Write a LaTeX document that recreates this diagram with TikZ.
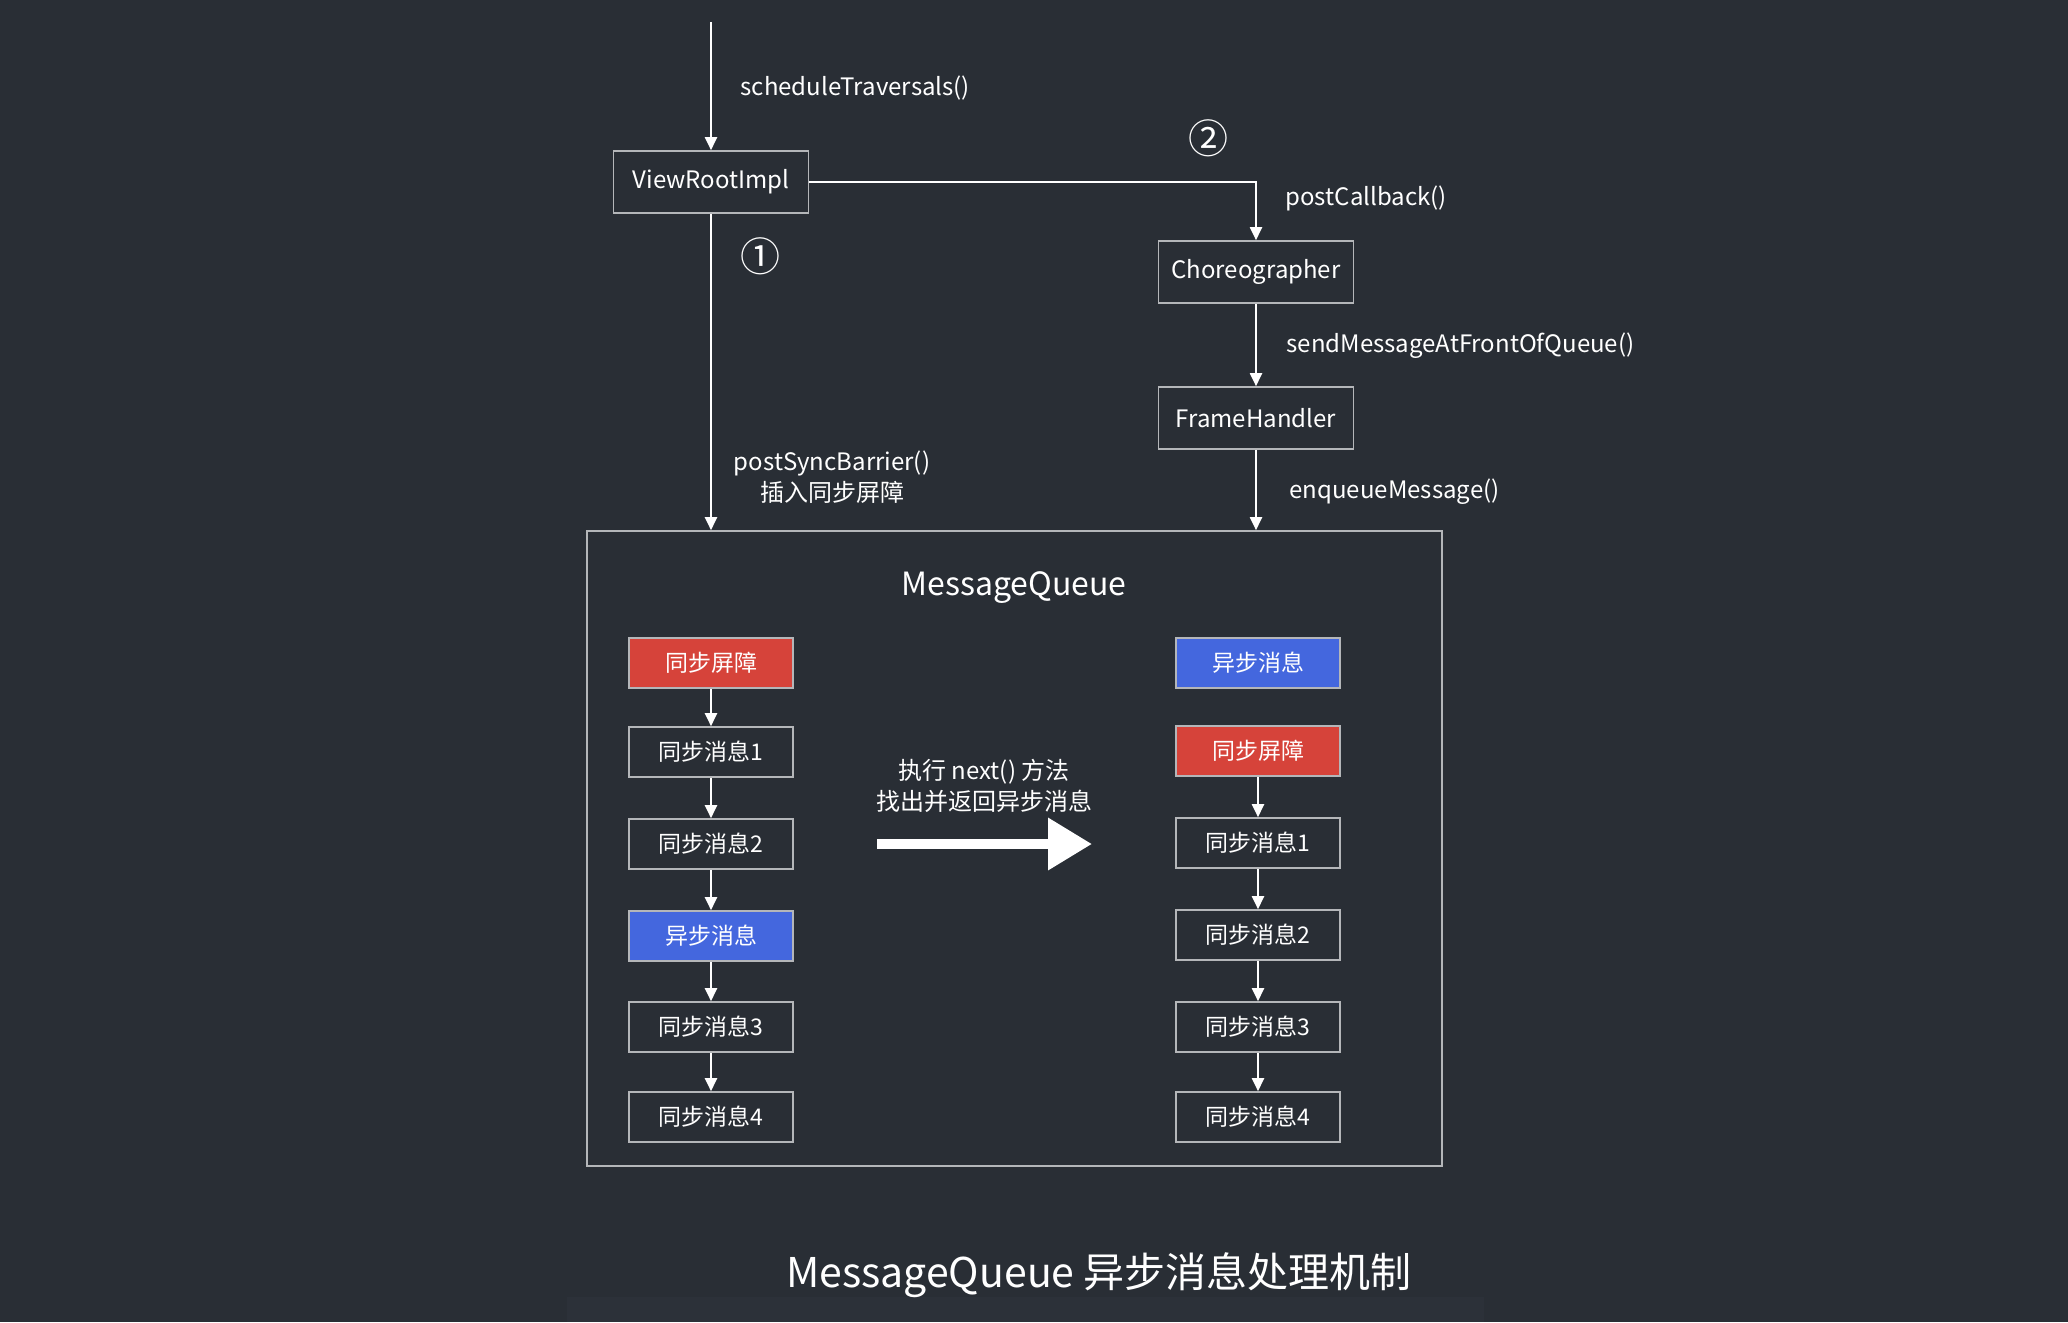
\documentclass[tikz,border=0pt]{standalone}
\usepackage{fontspec}
\setmainfont{Noto Sans CJK SC}
\usepackage{tikz}
\usetikzlibrary{positioning, arrows.meta}
\definecolor{bgcol}{HTML}{292E35}
\definecolor{bandcol}{HTML}{2C3139}
\definecolor{boxgray}{HTML}{B4B6B9}
\definecolor{barrierred}{HTML}{D6433A}
\definecolor{asyncblue}{HTML}{4467DE}

\begin{document}
\begin{tikzpicture}[x=1pt,y=-1pt,
  flow/.style={draw=white, line width=2pt, -{Triangle[length=13pt,width=12pt]}},
  classbox/.style={draw=boxgray, line width=1.6pt, fill=bgcol, text=white, minimum width=195pt, minimum height=62pt, font=\fontsize{24}{29}\selectfont},
  msgbox/.style={draw=boxgray, line width=1.6pt, fill=bgcol, text=white, minimum width=164pt, minimum height=50pt, font=\fontsize{23}{28}\selectfont},
  barrier/.style={msgbox, fill=barrierred},
  async/.style={msgbox, fill=asyncblue},
  call/.style={text=white, font=\fontsize{24}{29}\selectfont, anchor=west},
  order/.style={text=white, font=\fontsize{40}{46}\selectfont}]
\useasboundingbox (0,0) rectangle (2068,1322);
\fill[bgcol] (0,0) rectangle (2068,1322);
\fill[bandcol] (567,1297) rectangle (1484,1322);

\coordinate (entry) at (711,22);
\node[classbox] (vri) at (711,182) {ViewRootImpl};
\node[classbox] (chor) at (1256,272) {Choreographer};
\node[classbox] (fh) at (1256,418) {FrameHandler};
\node[draw=boxgray, line width=1.6pt, minimum width=855pt, minimum height=635pt] (mq) at (1014.5,848.5) {};
\node[text=white, font=\fontsize{32}{38}\selectfont] (mqtitle) at (1014,588) {MessageQueue};

\draw[flow] (entry) -- (vri.north);
\draw[flow] (vri.east) -| (chor.north);
\draw[flow] (chor) -- (fh);
\draw[flow] (vri.south) -- (vri.south |- mq.north);
\draw[flow] (fh.south) -- (fh.south |- mq.north);

\node[call] (sched) at (737,88) {scheduleTraversals()};
\node[call] (postcb) at (1282,198) {postCallback()};
\node[call] (sendfront) at (1283,346) {sendMessageAtFrontOfQueue()};
\node[call] (enqueue) at (1286,492) {enqueueMessage()};
\node[text=white, font=\fontsize{24}{29}\selectfont, align=center] (barriercall) at (832,477) {postSyncBarrier()\\[2pt]插入同步屏障};
\node[order] (n1) at (760,256) {①};
\node[order] (n2) at (1208,138) {②};

\node[barrier] (l1) at (711,663) {同步屏障};
\node[msgbox] (l2) at (711,752) {同步消息1};
\node[msgbox] (l3) at (711,844) {同步消息2};
\node[async] (l4) at (711,936) {异步消息};
\node[msgbox] (l5) at (711,1027) {同步消息3};
\node[msgbox] (l6) at (711,1117) {同步消息4};
\foreach \a/\b in {l1/l2,l2/l3,l3/l4,l4/l5,l5/l6}
  \draw[flow] (\a) -- (\b);

\node[async] (r1) at (1258,663) {异步消息};
\node[barrier] (r2) at (1258,751) {同步屏障};
\node[msgbox] (r3) at (1258,843) {同步消息1};
\node[msgbox] (r4) at (1258,935) {同步消息2};
\node[msgbox] (r5) at (1258,1027) {同步消息3};
\node[msgbox] (r6) at (1258,1117) {同步消息4};
\foreach \a/\b in {r2/r3,r3/r4,r4/r5,r5/r6}
  \draw[flow] (\a) -- (\b);

\node[text=white, font=\fontsize{24}{29}\selectfont, align=center] (nextnote) at (984,786) {执行 next() 方法\\[2pt]找出并返回异步消息};
\coordinate (nextL) at (877,844);
\coordinate (nextR) at (1092,844);
\draw[white, line width=10pt, -{Triangle[length=44pt,width=50pt]}] (nextL) -- (nextR);

\node[text=white, font=\fontsize{41}{49}\selectfont] (caption) at (1099,1275) {MessageQueue 异步消息处理机制};
\end{tikzpicture}
\end{document}
